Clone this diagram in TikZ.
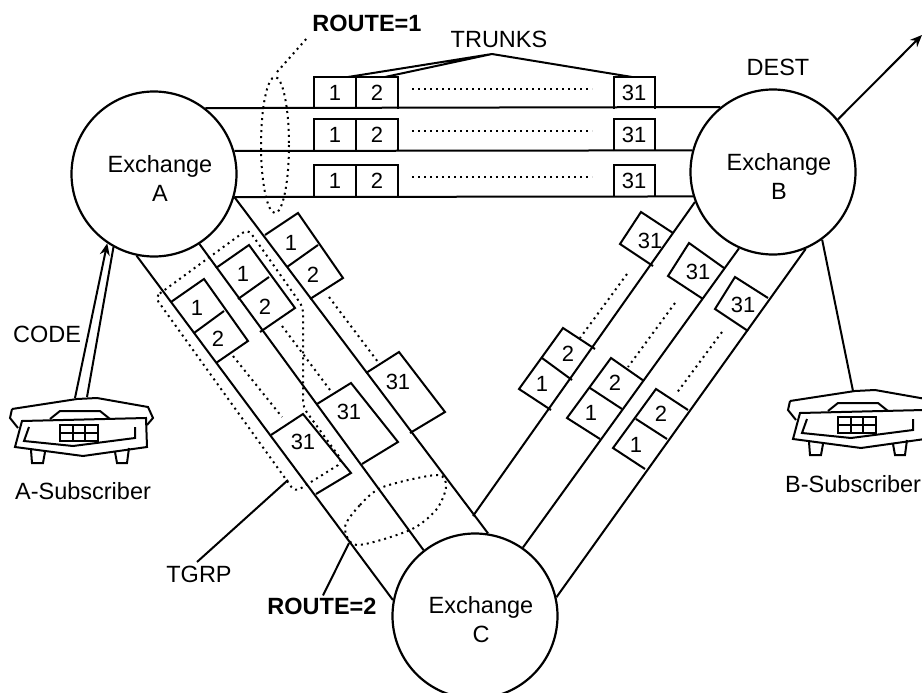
\documentclass[tikz,border=0pt]{standalone}
\usepackage{fontspec}
\setmainfont{Liberation Sans}
\usetikzlibrary{arrows.meta}
\tikzset{
  wire/.style={line width=2pt},
  dotline/.style={line width=2pt,dash pattern=on 2pt off 4pt},
  exch/.style={circle,draw,line width=2.2pt,minimum size=165pt,inner sep=0pt},
  lbl/.style={font=\fontsize{23.5}{29}\selectfont,inner sep=0pt,align=center},
  heavy/.style={font=\fontsize{23.5}{29}\selectfont\bfseries,inner sep=0pt},
  num/.style={font=\fontsize{22}{24}\selectfont,inner sep=0pt},
  phone/.pic={
    \draw[wire] (-68,-21) -- (-3,-31) -- (17,-32) -- (68,-23) -- (73,-12) -- (67,-5);
    \draw[wire] (-68,-21) -- (-70,-12) -- (-62,-2);
    \draw[wire] (-58,-9) -- (66,-12) -- (67,17) -- (3,26) -- (-65,17) -- cycle;
    \draw[wire] (-51,-3) -- (-56,11) -- (-7,16) -- (55,8) -- (55,-3);
    \draw[wire] (-30,-11) -- (-20,-19) -- (20,-19) -- (30,-11);
    \draw[wire] (-20,-5) rectangle (18,11) (-7,-5) -- (-7,11) (5,-5) -- (5,11) (-20,3) -- (18,3);
    \draw[wire] (-49,20) -- (-48,33) -- (-37,33) -- (-35,22);
    \draw[wire] (35,22) -- (37,33) -- (47,33) -- (49,18);
  }
}
\begin{document}
\begin{tikzpicture}[x=1pt,y=-1pt,>={Stealth[length=12pt,width=10pt]}]
\useasboundingbox (0,0) rectangle (922,693);
\node[exch] (exA) at (154,174) {};
\node[exch] (exB) at (773,172) {};
\node[exch] (exC) at (475,616) {};
\node[lbl] (lblA) at (160,178) {Exchange\\A};
\node[lbl] (lblB) at (779,176) {Exchange\\B};
\node[lbl] (lblC) at (481,620) {Exchange\\C};
% trunks A-B
\draw[wire] (exA.52) -- (exB.129.7);
\draw[wire] (exA.16.2) -- (exB.165.3);
\draw[wire] (exA.-16.2) -- (exB.197.6);
\foreach \y/\h in {77/109,119/151,165/197} {
  \draw[wire] (314,\h) -- (314,\y) -- (398,\y) -- (398,\h) (356,\y) -- (356,\h);
  \draw[wire] (614,\h) -- (614,\y) -- (655,\y) -- (655,\h);
  \draw[dotline] (412,\h-20) -- (592,\h-20);
  \node[num] (one\y) at (335,\h-16) {1};
  \node[num] (two\y) at (377,\h-16) {2};
  \node[num] (last\y) at (634,\h-16) {31};
}
% routes A-C
\draw[wire] (exA.258.1) -- (exC.169);
\draw[wire] (exA.-57.5) -- (exC.128);
\draw[wire] (exA.-16.5) -- (exC.81);
\coordinate (joinC) at (473,516);
\draw[wire] (exB.201.5) -- (joinC);
\draw[wire] (exB.246.5) -- (exC.55.7);
\draw[wire] (exB.-67.2) -- (exC.13);
% boxes on A side
\draw[wire] (265,235) -- (298,213) -- (343,278) -- (310,299) (287,267) -- (318,245);
\draw[wire] (366,373) -- (399,352) -- (445,412) -- (410,433);
\draw[dotline] (329,297) -- (378,362);
\draw[wire] (216,268) -- (249,245) -- (295,308) -- (260,332) (238,299) -- (269,277);
\draw[wire] (317,404) -- (351,383) -- (398,442) -- (362,464);
\draw[dotline] (282,326) -- (330,390);
\draw[wire] (171,302) -- (204,279) -- (248,341) -- (216,363) (194,333) -- (224,311);
\draw[wire] (271,435) -- (303,414) -- (351,473) -- (316,494);
\draw[dotline] (233,356) -- (282,417);
\foreach \n/\x/\y/\t in {a1/291/243/1,a2/313/275/2,a3/398/382/31,b1/243/274/1,b2/265/307/2,b3/349/412/31,c1/197/308/1,c2/218/339/2,c3/303/442/31}
  \node[num] (\n) at (\x,\y) {\t};
% boxes on B side
\draw[wire] (673,233) -- (641,212) -- (620,244) -- (653,266);
\draw[wire] (595,349) -- (563,328) -- (519,389) -- (551,410) (542,358) -- (572,380);
\draw[dotline] (627,274) -- (580,338);
\draw[wire] (724,268) -- (689,243) -- (668,276) -- (703,299);
\draw[wire] (644,381) -- (611,358) -- (567,418) -- (600,439) (590,388) -- (622,409);
\draw[dotline] (675,303) -- (628,367);
\draw[wire] (768,298) -- (735,277) -- (715,309) -- (748,331);
\draw[wire] (688,410) -- (656,389) -- (613,448) -- (645,469) (636,419) -- (667,439);
\draw[dotline] (722,332) -- (676,394);
\foreach \n/\x/\y/\t in {d1/542/384/1,d2/568/354/2,d3/650/241/31,e1/591/413/1,e2/615/383/2,e3/698/272/31,f1/636/445/1,f2/661/414/2,f3/743/305/31}
  \node[num] (\n) at (\x,\y) {\t};
% trunks bracket
\coordinate (apex) at (492,54);
\draw[wire] (348,77) -- (apex) (385,77) -- (apex) (632,77) -- (apex);
\node[lbl] (trunks) at (499,39) {TRUNKS};
% route and group outlines
\node[heavy] (routeone) at (367,23) {ROUTE=1};
\draw[dotline] (275,145) ellipse (14 and 68);
\draw[dotline] (277,72) -- (308,37);
\draw[dotline,rounded corners=6pt] (155,297) -- (248,229) -- (303,307) -- (303,407) -- (343,462) -- (295,492) -- cycle;
\draw[dotline] plot[smooth cycle] coordinates {(345,527) (360,505) (383,487) (437,475) (446,487) (436,510) (410,530) (357,545)};
\node[lbl] (tgrp) at (199,574) {TGRP};
\coordinate (tgrpend) at (288,480);
\coordinate (tgrpstart) at (197,562);
\draw[wire] (tgrpstart) -- (tgrpend);
\node[heavy] (routetwo) at (322,606) {ROUTE=2};
\coordinate (routeend) at (349,543);
\draw[wire] (routetwo.north) ++(1,-2) -- (routeend);
% subscribers
\pic at (80,430) {phone};
\pic at (858,422) {phone};
\coordinate (subAl) at (75,398);
\coordinate (subAr) at (87,397);
\coordinate (subB) at (853,391);
\coordinate (destout) at (922,35);
\draw[wire,->] (subAl) -- (exA.236);
\draw[wire] (subAr) -- (exA.241.3);
\draw[wire] (exB.-54.4) -- (subB);
\draw[wire,->] (exB.39.7) -- (destout);
\node[lbl] (code) at (47,334) {CODE};
\node[lbl] (dest) at (778,67) {DEST};
\node[lbl] (subnameA) at (83,491) {A-Subscriber};
\node[lbl,anchor=west] (subnameB) at (785,484) {B-Subscriber};
\end{tikzpicture}
\end{document}
